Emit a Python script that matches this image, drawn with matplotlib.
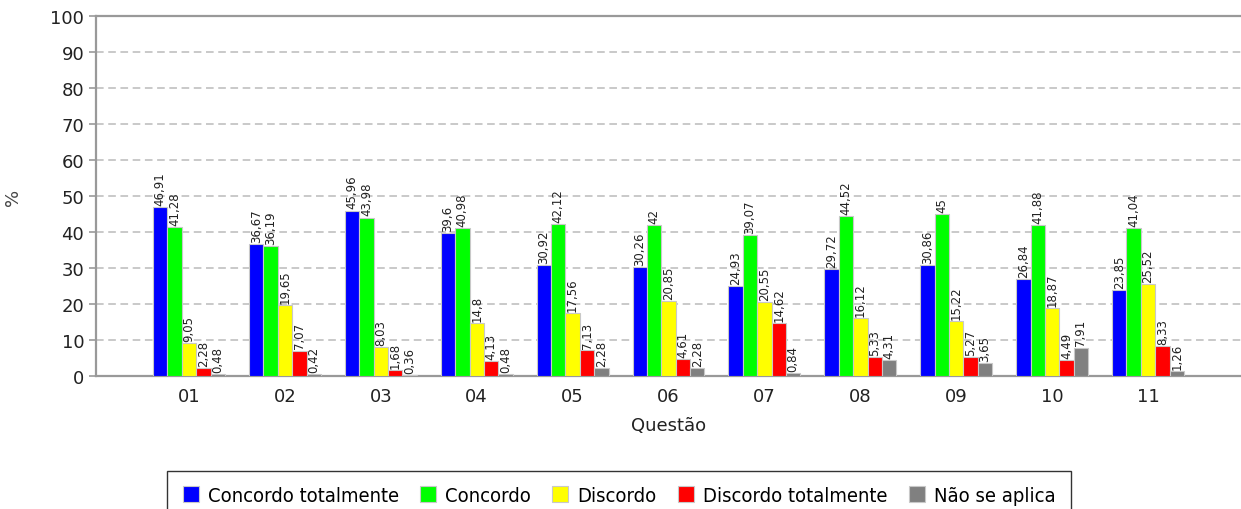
import matplotlib.pyplot as plt
import numpy as np

questions = ["01", "02", "03", "04", "05", "06", "07", "08", "09", "10", "11"]
series_names = ["Concordo totalmente", "Concordo", "Discordo", "Discordo totalmente", "Não se aplica"]
series_colors = ["#0000ff", "#00ff00", "#ffff00", "#ff0000", "#808080"]

concordo_tot = [46.91, 36.67, 45.96, 39.6, 30.92, 30.26, 24.93, 29.72, 30.86, 26.84, 23.85]
concordo = [41.28, 36.19, 43.98, 40.98, 42.12, 42, 39.07, 44.52, 45, 41.88, 41.04]
discordo = [9.05, 19.65, 8.03, 14.8, 17.56, 20.85, 20.55, 16.12, 15.22, 18.87, 25.52]
discordo_tot = [2.28, 7.07, 1.68, 4.13, 7.13, 4.61, 14.62, 5.33, 5.27, 4.49, 8.33]
nao_aplica = [0.48, 0.42, 0.36, 0.48, 2.28, 2.28, 0.84, 4.31, 3.65, 7.91, 1.26]

series = [concordo_tot, concordo, discordo, discordo_tot, nao_aplica]

fig = plt.figure(figsize=(12.41, 5.10), dpi=100)
ax = fig.add_axes([0.0774, 0.2608, 0.9226, 0.7059])

x = np.arange(len(questions))
w = 0.15


def fmt(v):
    s = ("%.2f" % v).rstrip("0").rstrip(".")
    return s.replace(".", ",")


handles = []
for k, vals in enumerate(series):
    pos = x + (k - 2) * w
    b = ax.bar(pos, vals, width=w, color=series_colors[k], edgecolor="#c8c8c8",
               linewidth=0.8, label=series_names[k], zorder=3)
    handles.append(b)
    for px, v in zip(pos, vals):
        ax.text(px, v + 0.6, fmt(v), rotation=90, ha="center", va="bottom",
                fontsize=8.5, color="#222222", zorder=4)

ax.set_xlim(-0.97, 10.97)
ax.set_ylim(0, 100)
ax.set_yticks(range(0, 101, 10))
ax.set_xticks(x)
ax.set_xticklabels(questions)
ax.tick_params(axis="both", labelsize=13, colors="#999999", labelcolor="#222222")
ax.tick_params(axis="x", length=0, pad=8)
ax.tick_params(axis="y", length=5, width=1.2)

ax.yaxis.grid(True, linestyle=(0, (5, 3)), color="#bbbbbb", linewidth=1.1, zorder=0)
ax.set_axisbelow(True)

for side in ["left", "bottom", "top"]:
    ax.spines[side].set_color("#999999")
    ax.spines[side].set_linewidth(1.6)
ax.spines["right"].set_visible(False)

ax.set_xlabel("Questão", fontsize=13, color="#222222", labelpad=8)
ax.set_ylabel("%", fontsize=13, color="#444444")
ax.yaxis.set_label_coords(-0.065, 0.5)

leg = fig.legend(handles=handles, loc="upper center", bbox_to_anchor=(0.4988, 0.0745),
                 ncol=5, frameon=True, fancybox=False, edgecolor="black",
                 prop={"family": ["DejaVu Sans"], "stretch": "condensed", "size": 14.5},
                 handlelength=0.8, handleheight=0.8, handletextpad=0.45,
                 columnspacing=1.05, borderpad=0.75, borderaxespad=0)
leg.get_frame().set_linewidth(1.0)

fig.savefig("out.png", dpi=100)
